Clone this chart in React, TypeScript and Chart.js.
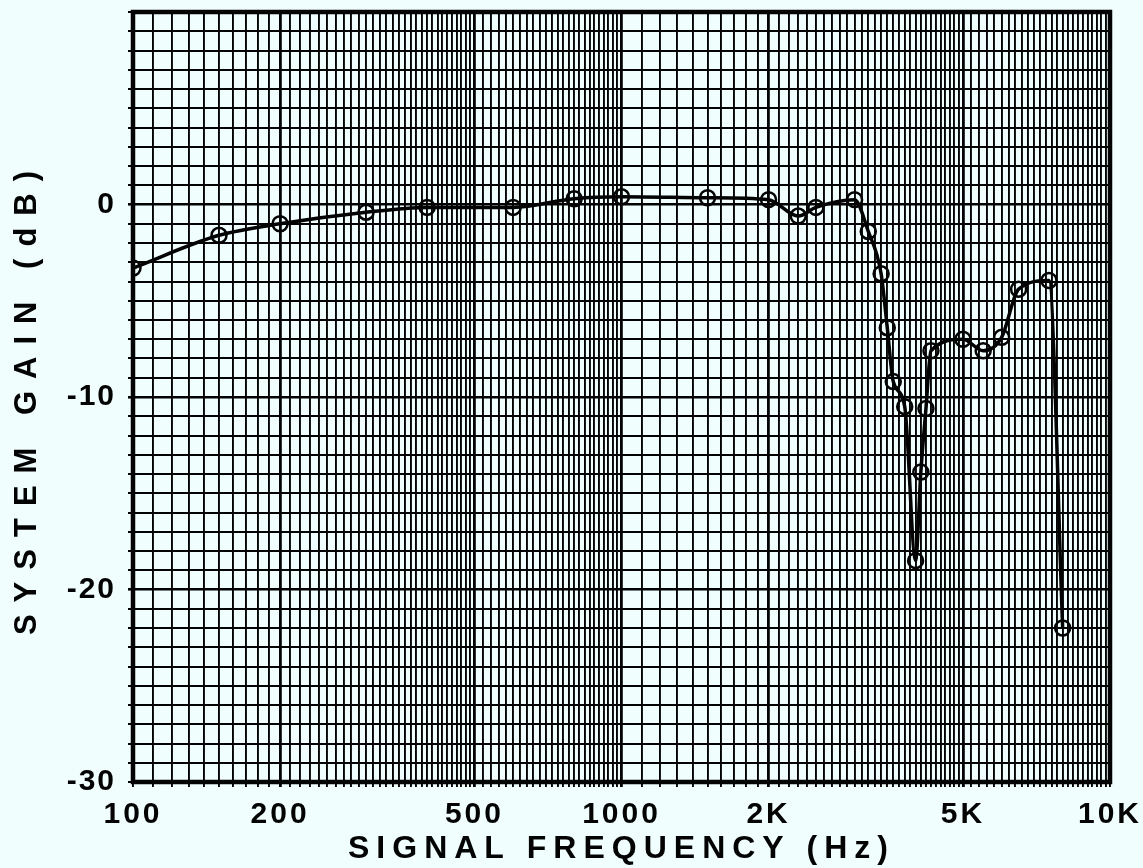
import React, { useEffect, useRef } from 'react';
import { Chart, registerables } from 'chart.js';

Chart.register(...registerables);

// Measured points: signal frequency (Hz) and system gain (dB)
const frequencies = [
  100, 150, 200, 300, 400, 600, 800, 1000, 1500, 2000, 2300, 2500, 3000, 3200,
  3400, 3500, 3600, 3800, 4000, 4100, 4200, 4300, 5000, 5500, 6000, 6500, 7500, 8000,
];
const gainDb = [
  -3.3, -1.6, -1.0, -0.4, -0.15, -0.15, 0.3, 0.4, 0.35, 0.25, -0.6, -0.15, 0.25, -1.4,
  -3.6, -6.4, -9.2, -10.5, -18.5, -13.9, -10.6, -7.6, -7.0, -7.6, -6.9, -4.4, -3.95, -22.0,
];

// Axis labels
const xTickValues = [100, 200, 500, 1000, 2000, 5000, 10000];
const xTickLabels = ['100', '200', '500', '1000', '2K', '5K', '10K'];
const xHeavyLines = [200, 500, 1000, 2000, 5000];
const yTickValues = [-30, -20, -10, 0];
const yTickLabels = ['-30', '-20', '-10', '0'];
const yHeavyLines = [0, -10, -20];
const xTitle = 'SIGNAL FREQUENCY (Hz)';
const yTitle = 'SYSTEM GAIN (dB)';

// Semi-log graph paper rulings (per decade: 0.1 steps from 1 to 5, 0.2 steps from 5 to 10)
const paperDecades = [100, 1000];
const gridFreqs: number[] = [];
for (const base of paperDecades) {
  for (let m = 10; m < 50; m += 1) gridFreqs.push((m * base) / 10);
  for (let m = 50; m < 100; m += 2) gridFreqs.push((m * base) / 10);
}
gridFreqs.push(10000);

const PAPER = '#f0fffe';
const INK = '#030303';
const FONT = '"Liberation Sans", Arial, sans-serif';

const paperPlugin = {
  id: 'paper',
  beforeDraw(chart: any) {
    const ctx = chart.ctx;
    ctx.save();
    ctx.fillStyle = PAPER;
    ctx.fillRect(0, 0, chart.width, chart.height);
    ctx.restore();
  },
};

const framePlugin = {
  id: 'frame',
  beforeDatasetsDraw(chart: any) {
    const { ctx, chartArea } = chart;
    ctx.save();
    ctx.strokeStyle = INK;
    ctx.lineWidth = 4.5;
    ctx.strokeRect(chartArea.left, chartArea.top, chartArea.right - chartArea.left, chartArea.bottom - chartArea.top);
    ctx.restore();
  },
};

const spacingPlugin = {
  id: 'letterSpacing',
  beforeDraw(chart: any) {
    const spacing: Record<string, { title: string; labels: string }> = {
      x: { title: '7px', labels: '3px' },
      y: { title: '12px', labels: '2px' },
    };
    for (const id of Object.keys(spacing)) {
      const s: any = chart.scales[id];
      if (!s || s.__spaced) continue;
      const origTitle = s.drawTitle.bind(s);
      const origLabels = s.drawLabels.bind(s);
      s.drawTitle = (...args: any[]) => {
        const ctx = chart.ctx;
        ctx.save();
        ctx.letterSpacing = spacing[id].title;
        origTitle(...args);
        ctx.restore();
      };
      s.drawLabels = (...args: any[]) => {
        const ctx = chart.ctx;
        ctx.save();
        ctx.letterSpacing = spacing[id].labels;
        origLabels(...args);
        ctx.restore();
      };
      s.__spaced = true;
    }
  },
};

export default function App() {
  const ref = useRef<HTMLCanvasElement>(null);

  useEffect(() => {
    document.body.style.margin = '0';
    document.body.style.background = PAPER;
    const canvas = ref.current!;
    const chart = new Chart(canvas, {
      type: 'line',
      data: {
        datasets: [
          {
            data: frequencies.map((f, i) => ({ x: f, y: gainDb[i] })),
            borderColor: INK,
            borderWidth: 3.5,
            pointRadius: 7.5,
            pointBorderWidth: 2.5,
            pointBackgroundColor: 'rgba(0,0,0,0)',
            pointBorderColor: INK,
            cubicInterpolationMode: 'monotone',
            fill: false,
          },
        ],
      },
      options: {
        responsive: false,
        animation: false,
        devicePixelRatio: 1,
        layout: { padding: { top: 12, right: 33, left: 0, bottom: 0 } },
        plugins: { legend: { display: false }, tooltip: { enabled: false } },
        scales: {
          x: {
            type: 'logarithmic',
            min: 100,
            max: 10000,
            afterBuildTicks: (s: any) => {
              s.ticks = gridFreqs.map((v) => ({ value: v }));
            },
            afterFit: (s: any) => {
              s.height = 86;
              s.paddingLeft = 0;
              s.paddingRight = 0;
            },
            ticks: {
              autoSkip: false,
              maxRotation: 0,
              minRotation: 0,
              padding: 10,
              color: INK,
              font: { family: FONT, size: 30, weight: 'bold' },
              callback: (v: any) => {
                const i = xTickValues.indexOf(Number(v));
                return i >= 0 ? xTickLabels[i] : '';
              },
            },
            grid: {
              color: INK,
              lineWidth: (c: any) => (c.tick && xHeavyLines.includes(c.tick.value) ? 2.8 : 1.9),
              drawTicks: true,
              tickLength: 5,
            },
            border: { display: false },
            title: {
              display: true,
              text: xTitle,
              color: INK,
              font: { family: FONT, size: 32, weight: 'bold' },
              padding: { top: 0, bottom: 0 },
            },
          },
          y: {
            type: 'linear',
            min: -30,
            max: 10,
            afterFit: (s: any) => {
              s.width = 133;
              s.paddingTop = 0;
              s.paddingBottom = 0;
            },
            ticks: {
              stepSize: 1,
              autoSkip: false,
              padding: 12,
              color: INK,
              font: { family: FONT, size: 30, weight: 'bold' },
              callback: (v: any) => {
                const i = yTickValues.indexOf(Number(v));
                return i >= 0 ? yTickLabels[i] : '';
              },
            },
            grid: {
              color: INK,
              lineWidth: (c: any) => (c.tick && yHeavyLines.includes(c.tick.value) ? 2.6 : 2.0),
              drawTicks: true,
              tickLength: 5,
            },
            border: { display: false },
            title: {
              display: true,
              text: yTitle,
              color: INK,
              font: { family: FONT, size: 31, weight: 'bold' },
              padding: { top: 9, bottom: 0 },
            },
          },
        },
      },
      plugins: [paperPlugin, framePlugin, spacingPlugin],
    } as any);
    return () => chart.destroy();
  }, []);

  return (
    <div style={{ position: 'fixed', left: 0, top: 0, width: 1143, height: 868, background: PAPER }}>
      <canvas ref={ref} width={1143} height={868} style={{ display: 'block' }} />
    </div>
  );
}
